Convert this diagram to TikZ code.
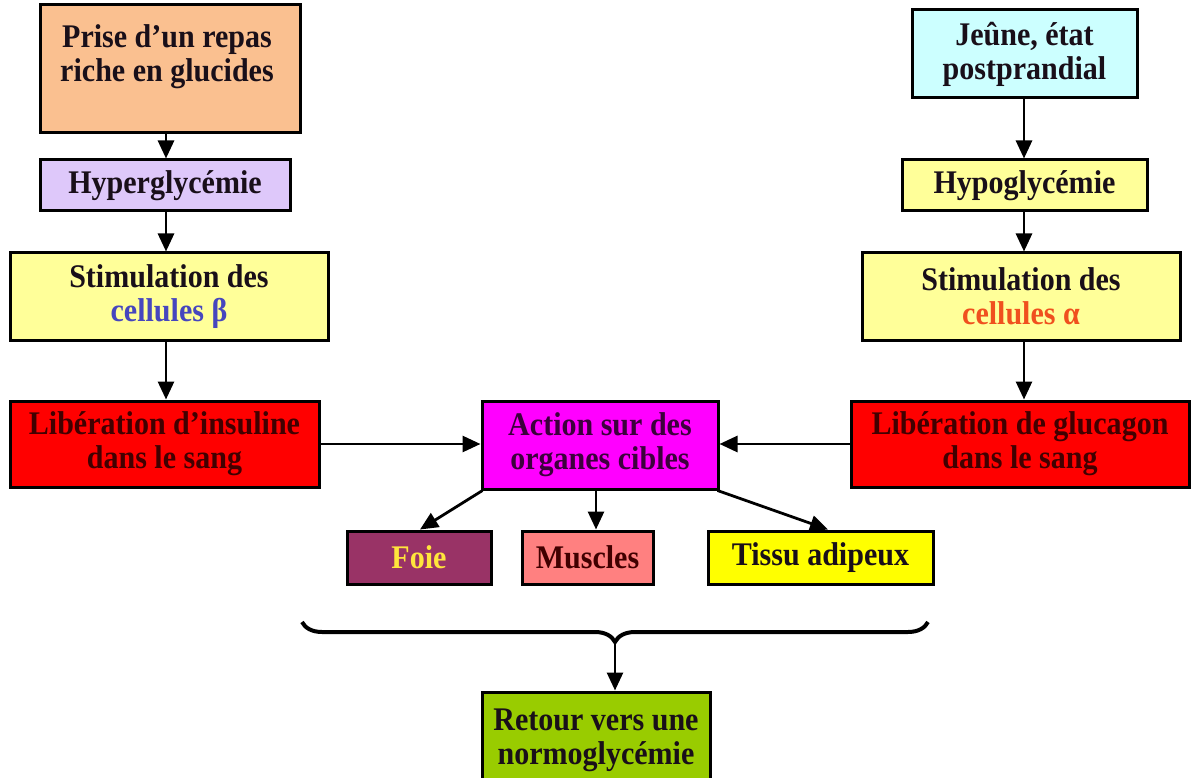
\documentclass[tikz,border=0pt]{standalone}
\usepackage{fontspec}
\setmainfont[FakeStretch=0.91]{Liberation Serif}
\usetikzlibrary{arrows.meta,decorations.pathreplacing}
\definecolor{peach}{RGB}{250,192,144}
\definecolor{lav}{RGB}{222,200,250}
\definecolor{ltyel}{RGB}{255,255,153}
\definecolor{ltcyan}{RGB}{204,255,255}
\definecolor{dred}{RGB}{65,0,0}
\definecolor{dtext}{RGB}{25,15,25}
\definecolor{dmag}{RGB}{60,0,60}
\definecolor{betac}{RGB}{70,70,190}
\definecolor{alphac}{RGB}{240,80,30}
\definecolor{foiec}{RGB}{153,51,102}
\definecolor{foiet}{RGB}{255,230,60}
\definecolor{musc}{RGB}{255,128,128}
\definecolor{greenc}{RGB}{153,204,0}
\definecolor{magc}{RGB}{255,0,255}
\definecolor{redc}{RGB}{255,0,0}
\definecolor{yelc}{RGB}{255,255,0}
\tikzset{
  boxst/.style={draw=black, line width=3pt, inner sep=0pt, align=center, text=dtext,
    font=\fontsize{33}{34}\selectfont\bfseries},
  txtst/.style={inner sep=0pt, align=center, text=dtext,
    font=\fontsize{33}{34}\selectfont\bfseries},
  arr/.style={line width=2.8pt, -{Triangle[length=18pt,width=16pt]}}
}
\begin{document}
\begin{tikzpicture}[x=1pt,y=-1pt]
\useasboundingbox (0,0) rectangle (1192,778);
\node[boxst, fill=peach, minimum width=260pt, minimum height=128pt] (prise) at (170,69) {};
\node[txtst] (prisetxt) at (167,57) {Prise d'un repas\\riche en glucides};
\node[boxst, fill=lav, minimum width=250pt, minimum height=51pt] (hyper) at (165,185.5) {Hyperglycémie};
\node[boxst, fill=ltyel, minimum width=318pt, minimum height=87pt] (stimb) at (169,296.5) {Stimulation des\\\textcolor{betac}{cellules β}};
\node[boxst, fill=redc, text=dred, minimum width=309pt, minimum height=86pt] (libi) at (164.5,444) {Libération d'insuline\\dans le sang};
\node[boxst, fill=ltcyan, minimum width=225pt, minimum height=88pt] (jeune) at (1024.5,54) {Jeûne, état\\postprandial};
\node[boxst, fill=ltyel, minimum width=245pt, minimum height=51pt] (hypo) at (1024.5,185.5) {Hypoglycémie};
\node[boxst, fill=ltyel, minimum width=318pt, minimum height=87pt] (stima) at (1021,296.5) {Stimulation des\\\textcolor{alphac}{cellules α}};
\node[boxst, fill=redc, text=dred, minimum width=338pt, minimum height=86pt] (libg) at (1020,444) {Libération de glucagon\\dans le sang};
\node[boxst, fill=magc, text=dmag, minimum width=236pt, minimum height=88pt] (action) at (600,445) {Action sur des\\organes cibles};
\node[boxst, fill=foiec, text=foiet, minimum width=144pt, minimum height=53pt] (foie) at (419,557.5) {Foie};
\node[boxst, fill=musc, text=dred, minimum width=131pt, minimum height=53pt] (muscles) at (587.5,557.5) {Muscles};
\node[boxst, fill=yelc, minimum width=225pt, minimum height=53pt] (tissu) at (820.5,557.5) {Tissu adipeux};
\node[boxst, fill=greenc, minimum width=228pt, minimum height=96pt] (retour) at (596,740) {Retour vers une\\normoglycémie};
\coordinate (bl) at (302,622);
\coordinate (br) at (928,622);
\draw[line width=4pt, decorate, decoration={brace, mirror, amplitude=20pt}] (bl) -- (br);
\coordinate (btip) at (615,643);
\draw[arr] (prise.south -| 166,0) -- (hyper.north -| 166,0);
\draw[arr] (hyper.south -| 166,0) -- (stimb.north -| 166,0);
\draw[arr] (stimb.south -| 166,0) -- (libi.north -| 166,0);
\draw[arr] (jeune.south -| 1024,0) -- (hypo.north -| 1024,0);
\draw[arr] (hypo.south -| 1024,0) -- (stima.north -| 1024,0);
\draw[arr] (stima.south -| 1024,0) -- (libg.north -| 1024,0);
\draw[arr] (libi.east) -- (libi.east -| action.west);
\draw[arr] (libg.west) -- (libg.west -| action.east);
\draw[arr] (action.south west) ++(2,0) -- (foie.north -| 420,0);
\draw[arr] (action.south -| 596,0) -- (muscles.north -| 596,0);
\draw[arr] (action.south east) ++(-2,0) -- (tissu.north -| 828,0);
\draw[arr] (btip) -- (retour.north -| btip);
\end{tikzpicture}
\end{document}
